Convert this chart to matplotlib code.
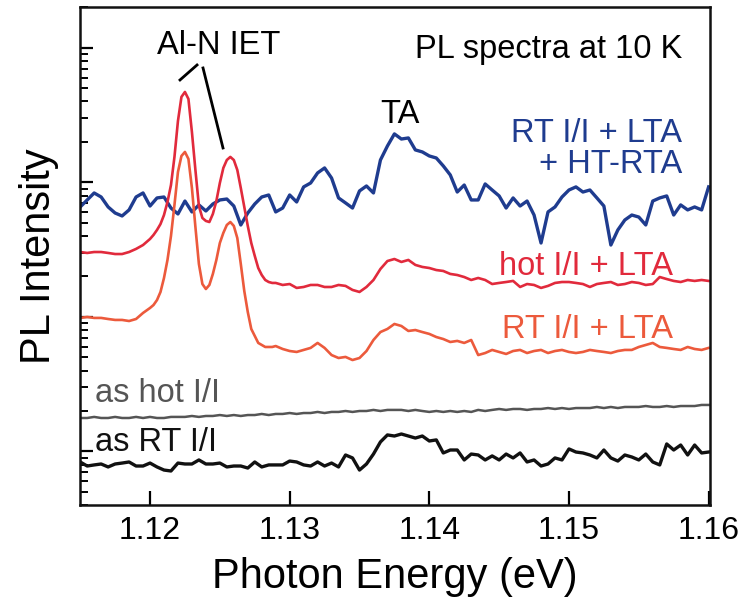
import numpy as np
import matplotlib
matplotlib.use("Agg")
import matplotlib.pyplot as plt
from matplotlib.ticker import LogLocator, NullFormatter, FixedLocator, FixedFormatter

plt.rcParams['font.family'] = ['Liberation Sans', 'DejaVu Sans']

# ---------------- data (photon energy in eV, log10 of PL intensity, arb. units) ----------------
energy = [
    1.1150, 1.1155, 1.1160, 1.1165, 1.1170, 1.1175, 1.1180, 1.1185, 1.1190, 1.1195,
    1.1200, 1.1205, 1.1210, 1.1215, 1.1220, 1.1225, 1.1230, 1.1235, 1.1240, 1.1245,
    1.1250, 1.1255, 1.1260, 1.1265, 1.1270, 1.1275, 1.1280, 1.1285, 1.1290, 1.1295,
    1.1300, 1.1305, 1.1310, 1.1315, 1.1320, 1.1325, 1.1330, 1.1335, 1.1340, 1.1345,
    1.1350, 1.1355, 1.1360, 1.1365, 1.1370, 1.1375, 1.1380, 1.1385, 1.1390, 1.1395,
    1.1400, 1.1405, 1.1410, 1.1415, 1.1420, 1.1425, 1.1430, 1.1435, 1.1440, 1.1445,
    1.1450, 1.1455, 1.1460, 1.1465, 1.1470, 1.1475, 1.1480, 1.1485, 1.1490, 1.1495,
    1.1500, 1.1505, 1.1510, 1.1515, 1.1520, 1.1525, 1.1530, 1.1535, 1.1540, 1.1545,
    1.1550, 1.1555, 1.1560, 1.1565, 1.1570, 1.1575, 1.1580, 1.1585, 1.1590, 1.1595,
    1.1600,
]
energy_peak_region = [
    1.12000, 1.12025, 1.12050, 1.12075, 1.12100, 1.12125, 1.12150, 1.12175, 1.12200, 1.12225,
    1.12250, 1.12275, 1.12300, 1.12325, 1.12350, 1.12375, 1.12400, 1.12425, 1.12450, 1.12475,
    1.12500, 1.12525, 1.12550, 1.12575, 1.12600, 1.12625, 1.12650, 1.12675, 1.12700, 1.12725,
    1.12750, 1.12775, 1.12800, 1.12825, 1.12850, 1.12875, 1.12900,
]
energy_fine = energy[:10] + energy_peak_region + energy[29:]

# RT I/I + LTA + HT-RTA (blue)
log_rt_lta_htrta = [
    1.818, 1.870, 1.922, 1.892, 1.818, 1.773, 1.751, 1.796, 1.892, 1.922,
    1.825, 1.885, 1.892, 1.810, 1.766, 1.862, 1.781, 1.833, 1.788, 1.840,
    1.870, 1.877, 1.825, 1.684, 1.773, 1.840, 1.892, 1.907, 1.781, 1.810,
    1.907, 1.855, 1.967, 1.996, 2.071, 2.108, 2.033, 1.885, 1.848, 1.810,
    1.937, 1.974, 1.922, 2.167, 2.271, 2.361, 2.323, 2.331, 2.242, 2.227,
    2.197, 2.182, 2.123, 2.056, 1.929, 1.981, 1.870, 1.870, 1.989, 1.944,
    1.900, 1.810, 1.885, 1.825, 1.862, 1.758, 1.550, 1.781, 1.818, 1.892,
    1.944, 1.967, 1.929, 1.944, 1.885, 1.825, 1.535, 1.647, 1.721, 1.758,
    1.743, 1.684, 1.862, 1.885, 1.900, 1.758, 1.833, 1.796, 1.818, 1.796,
    1.967,
]

# hot I/I + LTA (red), on energy_fine
log_hot_lta = [
    1.483, 1.476, 1.483, 1.483, 1.476, 1.468, 1.468, 1.483, 1.506, 1.535,
    1.580, 1.610, 1.647, 1.691, 1.758, 1.855, 1.981, 2.190, 2.457, 2.636,
    2.673, 2.621, 2.375, 2.093, 1.825, 1.736, 1.714, 1.706, 1.766, 1.862,
    1.996, 2.108, 2.167, 2.190, 2.167, 2.093, 1.959, 1.818, 1.677, 1.550,
    1.454, 1.364, 1.312, 1.275, 1.260, 1.253, 1.253,
    1.238, 1.245, 1.216, 1.223, 1.238, 1.238, 1.223, 1.223, 1.238, 1.231,
    1.201, 1.186, 1.223, 1.275, 1.357, 1.416, 1.431, 1.409, 1.424, 1.387,
    1.372, 1.364, 1.349, 1.342, 1.320, 1.312, 1.297, 1.275, 1.290, 1.275,
    1.245, 1.253, 1.260, 1.268, 1.223, 1.245, 1.238, 1.216, 1.231, 1.253,
    1.260, 1.260, 1.253, 1.245, 1.223, 1.245, 1.253, 1.260, 1.238, 1.245,
    1.260, 1.253, 1.238, 1.245, 1.297, 1.282, 1.268, 1.260, 1.275, 1.268,
    1.275, 1.268,
]

# RT I/I + LTA (orange), on energy_fine
log_rt_lta = [
    0.993, 1.000, 0.993, 0.993, 0.985, 0.978, 0.978, 0.970, 0.985, 1.030,
    1.067, 1.089, 1.126, 1.186, 1.290, 1.424, 1.602, 1.833, 2.078, 2.197,
    2.227, 2.175, 1.959, 1.669, 1.394, 1.245, 1.208, 1.238, 1.320, 1.424,
    1.550, 1.625, 1.684, 1.706, 1.677, 1.587, 1.394, 1.193, 1.037, 0.911,
    0.859, 0.807, 0.792, 0.777, 0.777, 0.777, 0.784,
    0.762, 0.747, 0.740, 0.755, 0.770, 0.807, 0.770, 0.717, 0.695, 0.703,
    0.680, 0.695, 0.747, 0.829, 0.888, 0.911, 0.948, 0.933, 0.896, 0.903,
    0.888, 0.874, 0.851, 0.836, 0.814, 0.822, 0.807, 0.829, 0.717, 0.732,
    0.755, 0.740, 0.725, 0.747, 0.755, 0.732, 0.747, 0.755, 0.732, 0.747,
    0.755, 0.740, 0.732, 0.740, 0.755, 0.747, 0.740, 0.732, 0.747, 0.755,
    0.755, 0.777, 0.792, 0.807, 0.777, 0.770, 0.762, 0.755, 0.777, 0.762,
    0.755, 0.770,
]

# as hot I/I (gray)
log_as_hot = [
    0.249, 0.249, 0.257, 0.249, 0.249, 0.257, 0.249, 0.249, 0.257, 0.249,
    0.257, 0.249, 0.249, 0.257, 0.257, 0.257, 0.264, 0.257, 0.264, 0.264,
    0.271, 0.264, 0.271, 0.264, 0.271, 0.271, 0.279, 0.271, 0.279, 0.279,
    0.286, 0.279, 0.286, 0.286, 0.294, 0.286, 0.294, 0.294, 0.301, 0.294,
    0.301, 0.301, 0.309, 0.301, 0.309, 0.309, 0.309, 0.301, 0.309, 0.301,
    0.294, 0.301, 0.294, 0.301, 0.294, 0.301, 0.294, 0.309, 0.301, 0.309,
    0.316, 0.309, 0.316, 0.316, 0.309, 0.316, 0.316, 0.323, 0.316, 0.323,
    0.316, 0.323, 0.323, 0.323, 0.331, 0.323, 0.331, 0.323, 0.331, 0.331,
    0.331, 0.338, 0.331, 0.331, 0.338, 0.331, 0.338, 0.338, 0.338, 0.346,
    0.346,
]

# as RT I/I (black)
log_as_rt = [
    -0.078, -0.108, -0.100, -0.093, -0.115, -0.093, -0.086, -0.078, -0.108, -0.108,
    -0.086, -0.115, -0.138, -0.145, -0.086, -0.093, -0.093, -0.063, -0.093, -0.093,
    -0.086, -0.115, -0.108, -0.108, -0.123, -0.078, -0.115, -0.100, -0.100, -0.100,
    -0.071, -0.078, -0.100, -0.108, -0.078, -0.108, -0.086, -0.115, -0.026, -0.048,
    -0.138, -0.093, -0.019, 0.071, 0.123, 0.115, 0.130, 0.115, 0.100, 0.115,
    0.078, 0.086, -0.011, 0.011, 0.011, -0.063, -0.019, -0.026, -0.063, -0.033,
    -0.063, -0.019, -0.048, -0.011, -0.078, -0.063, -0.108, -0.093, -0.048, -0.063,
    0.019, -0.004, -0.011, -0.026, -0.048, 0.011, -0.048, -0.071, -0.026, -0.041,
    -0.063, -0.019, -0.078, -0.100, 0.056, 0.011, 0.048, -0.026, 0.048, -0.011,
    -0.004,
]

xticks = [1.12, 1.13, 1.14, 1.15, 1.16]
xtick_labels = ["1.12", "1.13", "1.14", "1.15", "1.16"]

# ---------------- styling ----------------
c_blue = "#1f3c8f"
c_red = "#e12a3c"
c_orange = "#ec5a3c"
c_gray = "#555555"
c_black = "#111111"
fs_txt = 23.5

fig = plt.figure(figsize=(7.43, 5.98), dpi=100)
ax = fig.add_axes([0.107, 0.1555, 0.8486, 0.832])

ax.plot(energy, 10 ** np.array(log_rt_lta_htrta), color=c_blue, lw=2.4, solid_joinstyle='round')
ax.plot(energy_fine, 10 ** np.array(log_hot_lta), color=c_red, lw=1.9, solid_joinstyle='round')
ax.plot(energy_fine, 10 ** np.array(log_rt_lta), color=c_orange, lw=1.9, solid_joinstyle='round')
ax.plot(energy, 10 ** np.array(log_as_hot), color=c_gray, lw=1.8, solid_joinstyle='round')
ax.plot(energy, 10 ** np.array(log_as_rt), color=c_black, lw=2.4, solid_joinstyle='round')

ax.set_yscale('log')
ax.set_xlim(1.11495, 1.1601)
ax.set_ylim(0.40, 2000)

ax.xaxis.set_major_locator(FixedLocator(xticks))
ax.xaxis.set_major_formatter(FixedFormatter(xtick_labels))
ax.yaxis.set_major_locator(LogLocator(base=10, numticks=20))
ax.yaxis.set_minor_locator(LogLocator(base=10, subs=np.arange(2, 10), numticks=20))
ax.yaxis.set_major_formatter(NullFormatter())
ax.yaxis.set_minor_formatter(NullFormatter())

ax.tick_params(axis='x', which='major', direction='in', length=10, width=1.6,
               labelsize=23, pad=8, top=False)
ax.tick_params(axis='x', which='minor', bottom=False, top=False)
ax.tick_params(axis='y', which='major', direction='in', length=9, width=1.6, right=False)
ax.tick_params(axis='y', which='minor', direction='in', length=5.5, width=1.4, right=False)
for s in ax.spines.values():
    s.set_linewidth(1.8)
    s.set_color('#111111')

ax.set_xlabel("Photon Energy (eV)", fontsize=30, labelpad=8)
ax.set_ylabel("PL Intensity", fontsize=30)
ax.yaxis.set_label_coords(-0.032, 0.5)

T = ax.transAxes
ax.text(0.2213, 0.9065, "Al-N IET", transform=T, fontsize=fs_txt, ha='center', va='baseline')
ax.plot([0.1594, 0.1864], [0.8543, 0.8844], transform=T, color='black', lw=2.0)
ax.plot([0.1959, 0.2276], [0.8784, 0.7176], transform=T, color='black', lw=2.0)
ax.text(0.5083, 0.7678, "TA", transform=T, fontsize=fs_txt, ha='center', va='baseline')
ax.text(0.9556, 0.8985, "PL spectra at 10 K", transform=T, fontsize=fs_txt, ha='right', va='baseline')
ax.text(0.9556, 0.7296, "RT I/I + LTA", transform=T, fontsize=fs_txt, ha='right', va='baseline', color=c_blue)
ax.text(0.9556, 0.6673, "+ HT-RTA", transform=T, fontsize=fs_txt, ha='right', va='baseline', color=c_blue)
ax.text(0.9413, 0.4623, "hot I/I + LTA", transform=T, fontsize=fs_txt, ha='right', va='baseline', color=c_red)
ax.text(0.9413, 0.3357, "RT I/I + LTA", transform=T, fontsize=fs_txt, ha='right', va='baseline', color=c_orange)
ax.text(0.0250, 0.2070, "as hot I/I", transform=T, fontsize=fs_txt, ha='left', va='baseline', color=c_gray)
ax.text(0.0250, 0.1085, "as RT I/I", transform=T, fontsize=fs_txt, ha='left', va='baseline', color=c_black)

fig.savefig("out.png", dpi=100)
